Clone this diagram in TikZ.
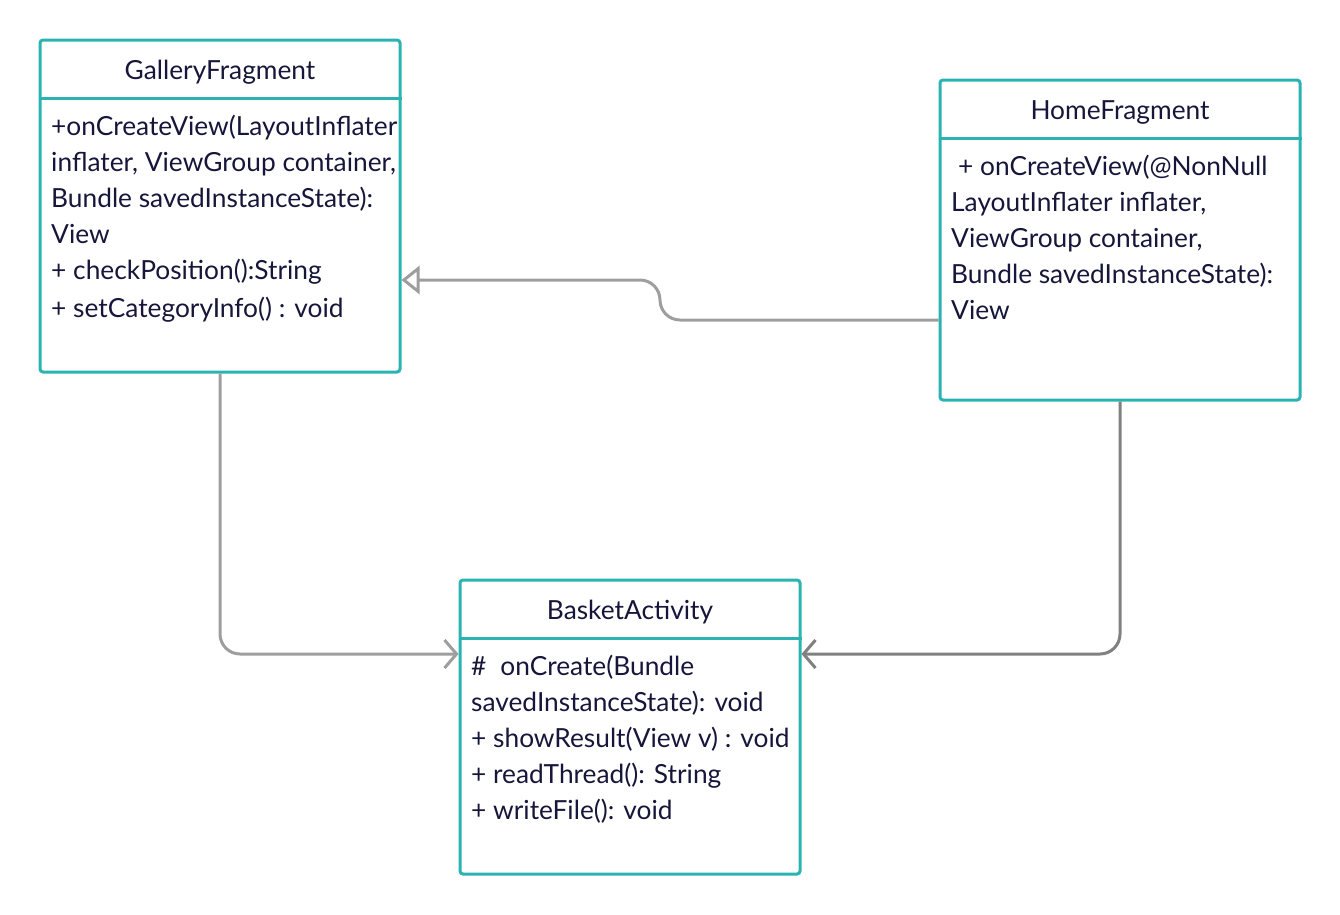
\documentclass[tikz,border=0pt]{standalone}
\usepackage{fontspec}
\setmainfont{Lato}
\usetikzlibrary{arrows.meta}
\definecolor{teal}{HTML}{2AB3B0}
\definecolor{ink}{HTML}{16163A}
\definecolor{linkA}{HTML}{9E9E9E}
\definecolor{linkB}{HTML}{808080}
\tikzset{
  classbox/.style={draw=teal, line width=3pt, rounded corners=3pt, rectangle, inner sep=0pt},
  divider/.style={draw=teal, line width=3pt},
  title/.style={text=ink, font=\fontsize{26.3}{32}\selectfont, inner sep=0pt, text height=24pt, text depth=6pt},
  member/.style={title, anchor=west},
  assoc/.style={line width=3pt, rounded corners=20pt, -{Straight Barb[length=12pt, width=28pt, line width=3pt]}},
  inherit/.style={line width=3pt, rounded corners=20pt, -{Triangle[open, length=18pt, width=28pt, line width=3pt]}}
}
\begin{document}
\begin{tikzpicture}[x=1pt, y=-1pt]
\useasboundingbox (0,0) rectangle (1340,914);

% class boxes
\node[classbox, minimum width=360pt, minimum height=332pt] (gal) at (220,206) {};
\node[classbox, minimum width=360pt, minimum height=320pt] (home) at (1120,240) {};
\node[classbox, minimum width=340pt, minimum height=294pt] (bask) at (630,727) {};

% header separators
\draw[divider] (gal.west |- 0,98) -- (gal.east |- 0,98);
\draw[divider] (home.west |- 0,138) -- (home.east |- 0,138);
\draw[divider] (bask.west |- 0,638) -- (bask.east |- 0,638);

% titles
\node[title] (galT) at (220,70) {GalleryFragment};
\node[title] (homeT) at (1120,110) {HomeFragment};
\node[title] (baskT) at (630,610) {BasketActivity};

% GalleryFragment members
\node[member] (g1) at (51,126) {+onCreateView(LayoutInflater};
\node[member] (g2) at (51,162) {inflater, ViewGroup container,};
\node[member] (g3) at (51,198) {Bundle savedInstanceState):};
\node[member] (g4) at (51,234) {View};
\node[member] (g5) at (51,270) {+ checkPosition():String};
\node[member] (g6) at (51,308) {+ setCategoryInfo() : void};

% HomeFragment members
\node[member] (h1) at (958,166) {+ onCreateView(@NonNull};
\node[member] (h2) at (951,202) {LayoutInflater inflater,};
\node[member] (h3) at (951,238) {ViewGroup container,};
\node[member] (h4) at (951,274) {Bundle savedInstanceState):};
\node[member] (h5) at (951,310) {View};

% BasketActivity members
\node[member] (b1) at (471,666) {\#\hspace{14pt}onCreate(Bundle};
\node[member] (b2) at (471,702) {savedInstanceState): void};
\node[member] (b3) at (471,738) {+ showResult(View v) : void};
\node[member] (b4) at (471,774) {+ readThread(): String};
\node[member] (b5) at (471,810) {+ writeFile(): void};

% connectors
\draw[inherit, draw=linkA] (home.west |- 0,320) -- (660,320) -- (660,280) -- (gal.east |- 0,280);
\draw[assoc, draw=linkA] (gal.south) -- (220,654) -- (bask.west |- 0,654);
\draw[assoc, draw=linkB] (home.south) -- (1120,654) -- (bask.east |- 0,654);
\end{tikzpicture}
\end{document}
